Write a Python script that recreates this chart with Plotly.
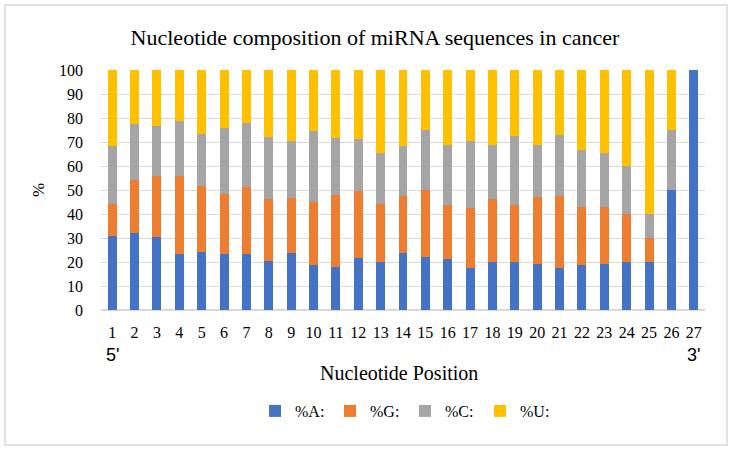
import plotly.graph_objects as go

positions = [str(i) for i in range(1, 28)]
pct_A = [31.0, 32.1, 30.3, 23.5, 24.0, 23.5, 23.2, 20.4, 23.8, 18.8, 18.1, 21.8, 20.0, 23.8,
         21.9, 21.1, 17.5, 20.0, 20.0, 19.3, 17.5, 18.8, 19.0, 20.0, 20.0, 50.0, 100.0]
pct_G = [13.0, 22.2, 25.5, 32.3, 27.7, 24.8, 28.1, 25.7, 22.7, 26.3, 29.8, 27.8, 24.2, 23.7,
         28.0, 22.7, 25.1, 26.3, 23.9, 27.8, 29.9, 24.0, 24.1, 20.0, 10.0, 0.0, 0.0]
pct_C = [24.3, 23.3, 20.9, 23.0, 21.8, 27.4, 26.6, 26.0, 23.9, 29.6, 23.9, 21.8, 21.4, 20.8,
         25.1, 24.9, 27.8, 22.5, 28.6, 21.5, 25.4, 23.7, 22.2, 20.0, 10.0, 25.0, 0.0]
pct_U = [100 - a - g - c for a, g, c in zip(pct_A, pct_G, pct_C)]

series = [("%A:", pct_A, "#4472C4"), ("%G:", pct_G, "#ED7D31"),
          ("%C:", pct_C, "#A5A5A5"), ("%U:", pct_U, "#FFC000")]

serif = "Liberation Serif, serif"
sans = "Liberation Sans, Arial, sans-serif"

fig = go.Figure()
for name, vals, col in series:
    fig.add_trace(go.Bar(x=positions, y=vals, name=name, marker_color=col,
                         marker_line_width=0))

fig.update_layout(
    barmode="stack", bargap=0.6,
    width=732, height=452,
    margin=dict(l=101, r=27, t=70, b=142, autoexpand=False),
    paper_bgcolor="white", plot_bgcolor="white",
    font=dict(family=serif, size=16, color="#000000"),
    title=dict(text="Nucleotide composition of miRNA sequences in cancer",
               x=(375 / 732), xanchor="center", y=1 - 37 / 452, yanchor="middle",
               font=dict(family=serif, size=22, color="#000000")),
    legend=dict(orientation="h", x=(405 - 101) / 604, xanchor="center",
                y=(310 - 411) / 240, yanchor="middle",
                font=dict(family=serif, size=16), traceorder="normal",
                itemwidth=30, entrywidth=30, tracegroupgap=0),
    yaxis=dict(range=[0, 100], dtick=10, showgrid=True, gridcolor="#D9D9D9",
               zeroline=True, zerolinecolor="#D9D9D9", showline=False,
               ticks="", ticklabelstandoff=17, tickfont=dict(family=serif, size=16),
               title=dict(text="%", font=dict(family=serif, size=17), standoff=10)),
    xaxis=dict(showgrid=False, showline=False, ticks="", ticklabelstandoff=11,
               tickfont=dict(family=serif, size=16),
               title=dict(text="", standoff=0)),
)

fig.add_annotation(text="Nucleotide Position", xref="paper", x=(399 - 101) / 604,
                   yref="paper", y=(310 - 373) / 240, yanchor="middle", showarrow=False,
                   font=dict(family=serif, size=20))
fig.add_annotation(text="5'", xref="x", x=0, yref="paper", y=(310 - 355) / 240,
                   yanchor="middle", showarrow=False, font=dict(family=sans, size=18))
fig.add_annotation(text="3'", xref="x", x=26, yref="paper", y=(310 - 355) / 240,
                   yanchor="middle", showarrow=False, font=dict(family=sans, size=18))

fig.add_shape(type="rect", xref="paper", yref="paper",
              x0=-96 / 604, x1=1 + 22 / 604, y0=-135 / 240, y1=1 + 65 / 240,
              line=dict(color="#D9D9D9", width=1.5), fillcolor="rgba(0,0,0,0)", layer="below")

fig.write_html("out.html", config={"displayModeBar": False},
               post_script="document.body.style.margin='0';")
